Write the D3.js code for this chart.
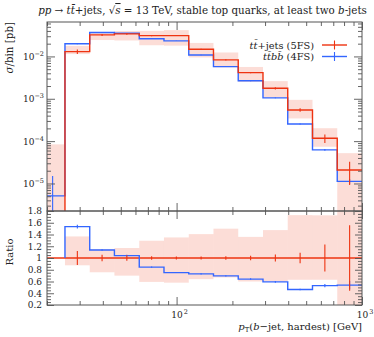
<!DOCTYPE html>
<html>
<head>
<meta charset="utf-8">
<script src="https://cdn.jsdelivr.net/npm/d3@7"></script>
<style>
  body { margin: 0; background: #fff; }
  svg { display: block; font-family: "DejaVu Serif", "Liberation Serif", serif; }
</style>
</head>
<body>
<script>
const width = 374, height = 337;
const margin = {top: 22, right: 12, left: 47};
const mainBottom = 211, ratioBottom = 305;

// bin edges in GeV
const edges = [18.4, 25, 34, 46.2, 62.9, 85.5, 116.3, 158.1, 215, 292.4, 397.6, 540.7, 735.3, 1000];

// ttbar+jets (5FS), pb per bin
const red = [0, 0.01297, 0.0322, 0.0340, 0.0310, 0.0310, 0.0148, 0.00827, 0.00415, 0.00177, 5.45e-4, 1.17e-4, 2.08e-5];
const redErr = [0, 0.00156, 0.0018, 0.00153, 0.00093, 0.00078, 0.00037, 0.00025, 0.000166, 0.000106, 4.9e-5, 2.7e-5, 1.16e-5];
const redBandLo = [0, 0.01136, 0.02438, 0.0238, 0.01838, 0.01798, 0.00947, 0.00554, 0.00249, 0.00106, 3.43e-4, 7.37e-5, 1.04e-6];
const redBandHi = [8.4e-5, 0.01773, 0.03703, 0.03978, 0.04011, 0.04185, 0.02082, 0.0124, 0.00564, 0.00261, 9.43e-4, 2.02e-4, 5.2e-5];

// ttbb (4FS), pb per bin
const blue = [5.1e-6, 0.0199, 0.0366, 0.0354, 0.0262, 0.0233, 0.0108, 0.00575, 0.00266, 0.00105, 2.53e-4, 6.2e-5, 1.12e-5];
const blueErr = [1.0e-5, 0.0004, 0.00044, 0.00042, 0.00031, 0.00028, 0.00016, 8.6e-5, 5.3e-5, 2.6e-5, 7.5e-6, 3.1e-6, 1.5e-6];

const ratioLabels = ["0.2", "0.4", "0.6", "0.8", "1", "1.2", "1.4", "1.6", "1.8"];
const mainExps = [-2, -3, -4, -5];
const xExps = [2, 3];

const redC = "#ee3311", blueC = "#3366ff", frameC = "#555", textC = "#222";

const x = d3.scaleLog().domain([20, 1000]).range([margin.left, width - margin.right]);
const yMain = d3.scaleLog().domain([2.24e-6, 0.065]).range([mainBottom, margin.top]);
const yRatio = d3.scaleLinear().domain([0.2, 1.8]).range([ratioBottom, mainBottom]);

const ym = v => v > 0 ? yMain(v) : mainBottom + 30;

const bins = d3.range(red.length).map(i => ({
  i, x0: edges[i], x1: edges[i + 1], xc: Math.sqrt(edges[i] * edges[i + 1]),
  red: red[i], redErr: redErr[i], lo: redBandLo[i], hi: redBandHi[i],
  blue: blue[i], blueErr: blueErr[i]
}));

const svg = d3.select("body").append("svg")
  .attr("width", width).attr("height", height)
  .attr("viewBox", [0, 0, width, height]);

const defs = svg.append("defs");
defs.append("clipPath").attr("id", "clipMain").append("rect")
  .attr("x", x(20)).attr("y", margin.top)
  .attr("width", x(1000) - x(20)).attr("height", mainBottom - margin.top);
defs.append("clipPath").attr("id", "clipRatio").append("rect")
  .attr("x", x(20)).attr("y", mainBottom)
  .attr("width", x(1000) - x(20)).attr("height", ratioBottom - mainBottom);

const stepPts = (vals, yf) => {
  const pts = vals.map((v, i) => [x(edges[i]), yf(v)]);
  pts.push([x(edges[edges.length - 1]), yf(vals[vals.length - 1])]);
  return pts;
};
const step = d3.line().curve(d3.curveStepAfter);

// ---------- main panel ----------
const gm = svg.append("g").attr("clip-path", "url(#clipMain)");

gm.selectAll("rect.band")
  .data(bins)
  .join("rect")
  .attr("class", "band")
  .attr("x", d => x(d.x0))
  .attr("width", d => x(d.x1) - x(d.x0))
  .attr("y", d => ym(d.hi))
  .attr("height", d => ym(d.lo) - ym(d.hi))
  .attr("fill", redC).attr("fill-opacity", 0.17);

gm.append("path")
  .attr("d", step(stepPts(blue, ym)))
  .attr("fill", "none").attr("stroke", blueC).attr("stroke-width", 1.4);
gm.selectAll("line.berr")
  .data(bins)
  .join("line")
  .attr("class", "berr")
  .attr("x1", d => x(d.xc)).attr("x2", d => x(d.xc))
  .attr("y1", d => ym(d.blue + d.blueErr)).attr("y2", d => ym(d.blue - d.blueErr))
  .attr("stroke", blueC).attr("stroke-width", 1.1);

gm.append("path")
  .attr("d", step(stepPts(red, ym)))
  .attr("fill", "none").attr("stroke", redC).attr("stroke-width", 1.4);
gm.selectAll("line.rerr")
  .data(bins.filter(d => d.red > 0))
  .join("line")
  .attr("class", "rerr")
  .attr("x1", d => x(d.xc)).attr("x2", d => x(d.xc))
  .attr("y1", d => ym(d.red + d.redErr)).attr("y2", d => ym(d.red - d.redErr))
  .attr("stroke", redC).attr("stroke-width", 1.1);

// ---------- ratio panel ----------
const gr = svg.append("g").attr("clip-path", "url(#clipRatio)");
const rb = bins.filter(d => d.red > 0);

gr.selectAll("rect.band")
  .data(rb)
  .join("rect")
  .attr("class", "band")
  .attr("x", d => x(d.x0))
  .attr("width", d => x(d.x1) - x(d.x0))
  .attr("y", d => yRatio(d.hi / d.red))
  .attr("height", d => yRatio(d.lo / d.red) - yRatio(d.hi / d.red))
  .attr("fill", redC).attr("fill-opacity", 0.17);

gr.append("line")
  .attr("x1", x(20)).attr("x2", x(1000))
  .attr("y1", yRatio(1)).attr("y2", yRatio(1))
  .attr("stroke", redC).attr("stroke-width", 1.4);

// blue / red
const ratioPts = [];
rb.forEach(d => { ratioPts.push([x(d.x0), yRatio(d.blue / d.red)], [x(d.x1), yRatio(d.blue / d.red)]); });
gr.append("path")
  .attr("d", d3.line()([[ratioPts[0][0], yRatio(1)], ...ratioPts]))
  .attr("fill", "none").attr("stroke", blueC).attr("stroke-width", 1.4);
gr.selectAll("line.berr")
  .data(rb)
  .join("line")
  .attr("class", "berr")
  .attr("x1", d => x(d.xc)).attr("x2", d => x(d.xc))
  .attr("y1", d => yRatio((d.blue + d.blueErr) / d.red)).attr("y2", d => yRatio((d.blue - d.blueErr) / d.red))
  .attr("stroke", blueC).attr("stroke-width", 1.1);

gr.selectAll("line.rerr")
  .data(rb)
  .join("line")
  .attr("class", "rerr")
  .attr("x1", d => x(d.xc)).attr("x2", d => x(d.xc))
  .attr("y1", d => yRatio(1 + d.redErr / d.red)).attr("y2", d => yRatio(1 - d.redErr / d.red))
  .attr("stroke", redC).attr("stroke-width", 1.1);

// ---------- axes / ticks ----------
const isMajorLog = v => Math.abs(Math.log10(v) - Math.round(Math.log10(v))) < 1e-6;
const xt = x.ticks();
const xMaj = xt.filter(isMajorLog), xMin = xt.filter(v => !isMajorLog(v));
const yt = yMain.ticks();
const yMaj = yt.filter(isMajorLog), yMin = yt.filter(v => !isMajorLog(v));
const rt = yRatio.ticks(32);
const rMaj = rt.filter(v => Math.abs(v * 5 - Math.round(v * 5)) < 1e-6), rMin = rt.filter(v => !rMaj.includes(v));

function tickAxis(axisFn, scale, vals, size, tr) {
  svg.append("g")
    .attr("transform", tr)
    .call(axisFn(scale).tickValues(vals).tickSize(size).tickFormat(""))
    .call(g => g.select(".domain").remove())
    .call(g => g.selectAll("line").attr("stroke", frameC).attr("stroke-width", 0.9));
}
[[margin.top, d3.axisTop], [mainBottom, d3.axisBottom], [mainBottom, d3.axisTop], [ratioBottom, d3.axisBottom]]
  .forEach(([yy, fn]) => {
    tickAxis(fn, x, xMaj, -8, `translate(0,${yy})`);
    tickAxis(fn, x, xMin, -4, `translate(0,${yy})`);
  });
// main y
tickAxis(d3.axisLeft, yMain, yMaj, -8, `translate(${x(20)},0)`);
tickAxis(d3.axisLeft, yMain, yMin, -4, `translate(${x(20)},0)`);
tickAxis(d3.axisRight, yMain, yMaj, -8, `translate(${x(1000)},0)`);
tickAxis(d3.axisRight, yMain, yMin, -4, `translate(${x(1000)},0)`);
// ratio y
tickAxis(d3.axisLeft, yRatio, rMaj, -7, `translate(${x(20)},0)`);
tickAxis(d3.axisLeft, yRatio, rMin, -4, `translate(${x(20)},0)`);
tickAxis(d3.axisRight, yRatio, rMaj, -7, `translate(${x(1000)},0)`);
tickAxis(d3.axisRight, yRatio, rMin, -4, `translate(${x(1000)},0)`);

// frames
[[margin.top, mainBottom], [mainBottom, ratioBottom]].forEach(([t, b]) => {
  svg.append("rect")
    .attr("x", x(20)).attr("y", t)
    .attr("width", x(1000) - x(20)).attr("height", b - t)
    .attr("fill", "none").attr("stroke", frameC).attr("stroke-width", 1);
});

// ---------- labels ----------
const fs = 9;
mainExps.forEach(e => {
  const t = svg.append("text")
    .attr("x", x(20) - 3).attr("y", yMain(Math.pow(10, e)) + 3.5)
    .attr("text-anchor", "end").attr("font-size", fs).attr("fill", textC);
  t.append("tspan").text("10");
  t.append("tspan").attr("dy", -4).attr("font-size", 6.5).text("\u2212" + (-e));
});
ratioLabels.forEach(s => {
  svg.append("text")
    .attr("x", x(20) - 5).attr("y", yRatio(+s) + 3.3)
    .attr("text-anchor", "end").attr("font-size", fs).attr("fill", textC)
    .text(s);
});
xExps.forEach(e => {
  const t = svg.append("text")
    .attr("x", x(Math.pow(10, e)) + 3).attr("y", ratioBottom + 13)
    .attr("text-anchor", "middle").attr("font-size", fs).attr("fill", textC);
  t.append("tspan").text("10");
  t.append("tspan").attr("dy", -4).attr("dx", 1).attr("font-size", 6.5).text(e);
});

// x title
const xl = svg.append("text")
  .attr("x", x(1000)).attr("y", 330)
  .attr("text-anchor", "end").attr("font-size", 10).attr("fill", textC);
xl.append("tspan").attr("font-style", "italic").text("p");
xl.append("tspan").attr("dy", 2).attr("font-size", 6.8).text("T");
xl.append("tspan").attr("dy", -2).text("(");
xl.append("tspan").attr("font-style", "italic").text("b");
xl.append("tspan").text("\u2212jet, hardest) [GeV]");

// y titles
const yl = svg.append("text")
  .attr("transform", `translate(13,${margin.top}) rotate(-90)`)
  .attr("text-anchor", "end").attr("font-size", 10.3).attr("fill", textC);
yl.append("tspan").attr("font-style", "italic").text("\u03c3");
yl.append("tspan").text("/bin [pb]");

svg.append("text")
  .attr("transform", `translate(13,${(mainBottom + ratioBottom) / 2 - 6}) rotate(-90)`)
  .attr("text-anchor", "middle").attr("font-size", 10).attr("fill", textC)
  .text("Ratio");

// title
const tt = svg.append("text")
  .attr("x", (x(20) + x(1000)) / 2 - 2).attr("y", 14)
  .attr("text-anchor", "middle").attr("font-size", 10.3).attr("fill", textC);
tt.append("tspan").attr("font-style", "italic").text("pp");
tt.append("tspan").text(" \u2192 ");
tt.append("tspan").attr("font-style", "italic").text("tt\u0304");
tt.append("tspan").text("+jets, \u221a");
tt.append("tspan").attr("font-style", "italic").attr("text-decoration", "overline").text("s");
tt.append("tspan").text(" = 13 TeV, stable top quarks, at least two ");
tt.append("tspan").attr("font-style", "italic").text("b");
tt.append("tspan").text("-jets");

// legend
const legend = [
  {parts: [["tt\u0304", true], ["+jets (5FS)", false]], color: redC},
  {parts: [["tt\u0304bb\u0304", true], [" (4FS)", false]], color: blueC}
];
legend.forEach((l, k) => {
  const yy = 45 + k * 11.5;
  const t = svg.append("text")
    .attr("x", 314).attr("y", yy + 3.5)
    .attr("text-anchor", "end").attr("font-size", 9.8).attr("fill", textC);
  l.parts.forEach(([s, it]) => t.append("tspan").attr("font-style", it ? "italic" : "normal").text(s));
  svg.append("line").attr("x1", 322).attr("x2", 347).attr("y1", yy).attr("y2", yy)
    .attr("stroke", l.color).attr("stroke-width", 1.4);
  svg.append("line").attr("x1", 334.5).attr("x2", 334.5).attr("y1", yy - 4.5).attr("y2", yy + 4.5)
    .attr("stroke", l.color).attr("stroke-width", 1.1);
});
</script>
</body>
</html>
